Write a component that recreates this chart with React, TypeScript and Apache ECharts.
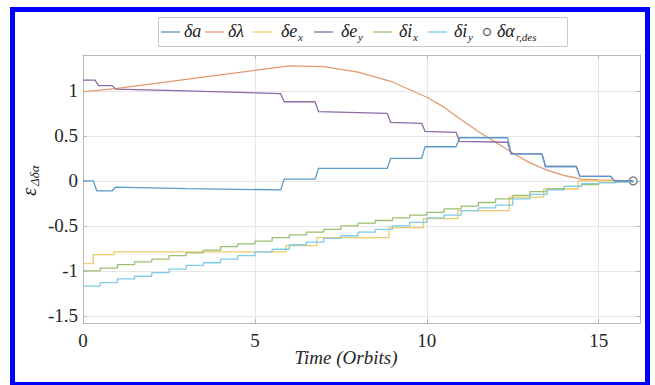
import React, { useEffect, useRef } from "react";
import * as echarts from "echarts";

// ---- data (time in orbits, value) ----
const xTicks = [0, 5, 10, 15];
const yTicks = [-1.5, -1, -0.5, 0, 0.5, 1];

const dA: [number, number][] = [
  [0, 0], [0.3, 0], [0.4, -0.11], [0.85, -0.11], [0.95, -0.07], [3, -0.085], [5.75, -0.1],
  [5.85, 0.02], [6.75, 0.02], [6.85, 0.14], [8.85, 0.14], [8.95, 0.25], [9.85, 0.25],
  [9.95, 0.38], [10.85, 0.38], [10.95, 0.48], [12.35, 0.48], [12.45, 0.3], [13.35, 0.3],
  [13.45, 0.16], [14.35, 0.16], [14.45, 0.05], [15.35, 0.05], [15.45, 0], [16, 0],
];
const dLambda: [number, number][] = [
  [0, 0.99], [1, 1.03], [2, 1.08], [3, 1.13], [4, 1.18], [5, 1.23], [6, 1.28], [7, 1.27],
  [8, 1.21], [9, 1.1], [10, 0.93], [10.5, 0.82], [11, 0.68], [11.5, 0.55], [12, 0.43],
  [12.5, 0.31], [13, 0.2], [13.5, 0.12], [14, 0.06], [14.5, 0.02], [15, 0.01], [16, 0],
];
const dEx: [number, number][] = [
  [0, -0.92], [0.3, -0.82], [0.9, -0.79], [5.9, -0.72], [6.8, -0.63], [8.9, -0.52],
  [9.9, -0.42], [10.9, -0.33], [12.4, -0.18], [13.4, -0.09], [14.4, 0.0], [15.4, 0.0], [16, 0],
];
const dEy: [number, number][] = [
  [0, 1.12], [0.35, 1.12], [0.45, 1.06], [0.85, 1.06], [0.95, 1.02], [3, 1.0], [5.75, 0.97],
  [5.85, 0.88], [6.75, 0.88], [6.85, 0.77], [8.85, 0.75], [8.95, 0.65], [9.85, 0.64],
  [9.95, 0.55], [10.85, 0.54], [10.95, 0.44], [12.35, 0.43], [12.45, 0.3], [13.35, 0.3],
  [13.45, 0.16], [14.35, 0.16], [14.45, 0.05], [15.35, 0.05], [15.45, 0], [16, 0],
];
const dIx: [number, number][] = [
  [0, -1.0], [0.5, -0.97], [1, -0.93], [1.5, -0.9], [2, -0.87], [2.5, -0.83], [3, -0.8],
  [3.5, -0.77], [4, -0.73], [4.5, -0.7], [5, -0.67], [5.5, -0.63], [6, -0.6], [6.5, -0.57],
  [7, -0.54], [7.5, -0.5], [8, -0.47], [8.5, -0.44], [9, -0.41], [9.5, -0.38], [10, -0.35],
  [10.5, -0.31], [11, -0.28], [11.5, -0.24], [12, -0.2], [12.5, -0.16], [13, -0.12],
  [13.5, -0.09], [14, -0.06], [14.5, -0.04], [15, -0.02], [15.5, -0.01], [16, 0],
];
const dIy: [number, number][] = [
  [0, -1.17], [0.5, -1.13], [1, -1.09], [1.5, -1.06], [2, -1.02], [2.5, -0.98], [3, -0.94],
  [3.5, -0.91], [4, -0.87], [4.5, -0.83], [5, -0.79], [5.5, -0.76], [6, -0.71], [6.5, -0.68],
  [7, -0.64], [7.5, -0.61], [8, -0.57], [8.5, -0.54], [9, -0.5], [9.5, -0.46], [10, -0.41],
  [10.5, -0.38], [11, -0.33], [11.5, -0.3], [12, -0.27], [12.5, -0.2], [13, -0.15],
  [13.5, -0.1], [14, -0.06], [14.5, -0.03], [15, -0.02], [15.5, -0.01], [16, 0],
];
const dDes: [number, number][] = [[16, 0]];

const legendMain = ["δa", "δλ", "δe", "δe", "δi", "δi", "δα"];
const legendSub = ["", "", "x", "y", "x", "y", "r,des"];
const colors = ["#5a9ac8", "#e39a6f", "#ecc96a", "#8c6aa6", "#9cc070", "#7fcbea", "#555555"];

const SERIF = "Liberation Serif, Times New Roman, serif";

// legend layout (pixels): icon start, text start, subscript start
const legIconX = [161, 205, 253, 314, 373, 428, 487];
const legTextX = [184, 228, 281, 341, 399, 454, 497];
const legSubX = [0, 0, 298, 358, 413, 468, 516];
const LEG_Y = 31;

export default function App() {
  const ref = useRef<HTMLDivElement>(null);
  useEffect(() => {
    if (!ref.current) return;
    const chart = echarts.init(ref.current, undefined, { renderer: "svg" });
    const lineSeries = (i: number, data: [number, number][], step?: string) => ({
      name: legendMain[i] + legendSub[i],
      type: "line",
      data,
      step: step || false,
      symbol: "none",
      showSymbol: false,
      color: colors[i],
      lineStyle: { color: colors[i], width: 1.3 },
      xAxisIndex: 0,
      yAxisIndex: 0,
    });
    const axisCommon = {
      type: "value",
      axisLine: { show: true, onZero: false, lineStyle: { color: "#b8b8b8", width: 1 } },
    };

    const legendEls: any[] = [
      {
        type: "rect",
        shape: { x: 158.5, y: 17.5, width: 409, height: 29 },
        style: { fill: "#ffffff", stroke: "#c8c8c8", lineWidth: 1 },
      },
    ];
    legendMain.forEach((m, i) => {
      if (i < 6) {
        legendEls.push({
          type: "line",
          shape: { x1: legIconX[i], y1: LEG_Y + 1, x2: legIconX[i] + 19, y2: LEG_Y + 1 },
          style: { stroke: colors[i], lineWidth: 1.3 },
        });
      } else {
        legendEls.push({
          type: "circle",
          shape: { cx: legIconX[i], cy: LEG_Y + 1, r: 3.5 },
          style: { fill: "#ffffff", stroke: "#555555", lineWidth: 1.2 },
        });
      }
      legendEls.push({
        type: "text",
        x: legTextX[i],
        y: LEG_Y,
        style: { text: m, fontFamily: SERIF, fontStyle: "italic", fontSize: 18, fill: "#222222", align: "left", verticalAlign: "middle" },
      });
      if (legendSub[i]) {
        legendEls.push({
          type: "text",
          x: legSubX[i],
          y: LEG_Y + 6,
          style: { text: legendSub[i], fontFamily: SERIF, fontStyle: "italic", fontSize: 11, fill: "#222222", align: "left", verticalAlign: "middle" },
        });
      }
    });

    chart.setOption({
      animation: false,
      grid: { left: 83, right: 15, top: 55, bottom: 62, containLabel: false },
      xAxis: [
        {
          ...axisCommon,
          position: "bottom",
          min: 0,
          max: 16.2,
          axisTick: { show: true, inside: true, length: 4, customValues: xTicks, lineStyle: { color: "#b8b8b8" } },
          axisLabel: { customValues: xTicks, fontFamily: SERIF, fontSize: 19, color: "#262626", margin: 8 },
          splitLine: { show: true, lineStyle: { color: "#e6e6e6", width: 1 } },
        },
        {
          ...axisCommon,
          position: "top",
          min: 0,
          max: 16.2,
          axisTick: { show: true, inside: true, length: 4, customValues: xTicks, lineStyle: { color: "#b8b8b8" } },
          axisLabel: { show: false },
          splitLine: { show: false },
        },
      ],
      yAxis: [
        {
          ...axisCommon,
          position: "left",
          min: -1.58,
          max: 1.4,
          axisTick: { show: true, inside: true, length: 4, customValues: yTicks, lineStyle: { color: "#b8b8b8" } },
          axisLabel: {
            customValues: yTicks,
            fontFamily: SERIF,
            fontSize: 19,
            color: "#262626",
            margin: 5,
            formatter: (v: number) => String(v),
          },
          splitLine: { show: true, lineStyle: { color: "#e6e6e6", width: 1 } },
        },
        {
          ...axisCommon,
          position: "right",
          min: -1.58,
          max: 1.4,
          axisTick: { show: true, inside: true, length: 4, customValues: yTicks, lineStyle: { color: "#b8b8b8" } },
          axisLabel: { show: false },
          splitLine: { show: false },
        },
      ],
      series: [
        lineSeries(1, dLambda),
        lineSeries(2, dEx, "end"),
        lineSeries(4, dIx, "end"),
        lineSeries(5, dIy, "end"),
        lineSeries(3, dEy),
        lineSeries(0, dA),
        {
          name: "δαr,des",
          type: "scatter",
          data: dDes,
          symbol: "circle",
          symbolSize: 8,
          itemStyle: { color: "#ffffff", borderColor: colors[6], borderWidth: 1.3 },
          xAxisIndex: 0,
          yAxisIndex: 0,
        },
      ],
      graphic: [
        ...legendEls,
        {
          type: "rect",
          shape: { x: 12.5, y: 9.5, width: 635, height: 375 },
          style: { fill: "none", stroke: "#0000ff", lineWidth: 5 },
        },
        {
          type: "text",
          x: 346,
          y: 357,
          style: {
            text: "Time (Orbits)",
            fontFamily: SERIF,
            fontStyle: "italic",
            fontSize: 19,
            fill: "#262626",
            align: "center",
            verticalAlign: "middle",
          },
        },
        {
          type: "group",
          x: 29,
          y: 181,
          rotation: Math.PI / 2,
          children: [
            {
              type: "text",
              x: -15,
              y: 0,
              style: { text: "ε", fontFamily: SERIF, fontStyle: "italic", fontSize: 21, fill: "#262626", align: "left", verticalAlign: "middle" },
            },
            {
              type: "text",
              x: -5,
              y: 5,
              style: { text: "Δδα", fontFamily: SERIF, fontStyle: "italic", fontSize: 13, fill: "#262626", align: "left", verticalAlign: "middle" },
            },
          ],
        },
      ],
    });
    return () => chart.dispose();
  }, []);
  return (
    <div
      ref={ref}
      style={{ position: "fixed", left: 0, top: 0, width: 655, height: 385, background: "#fff" }}
    />
  );
}
